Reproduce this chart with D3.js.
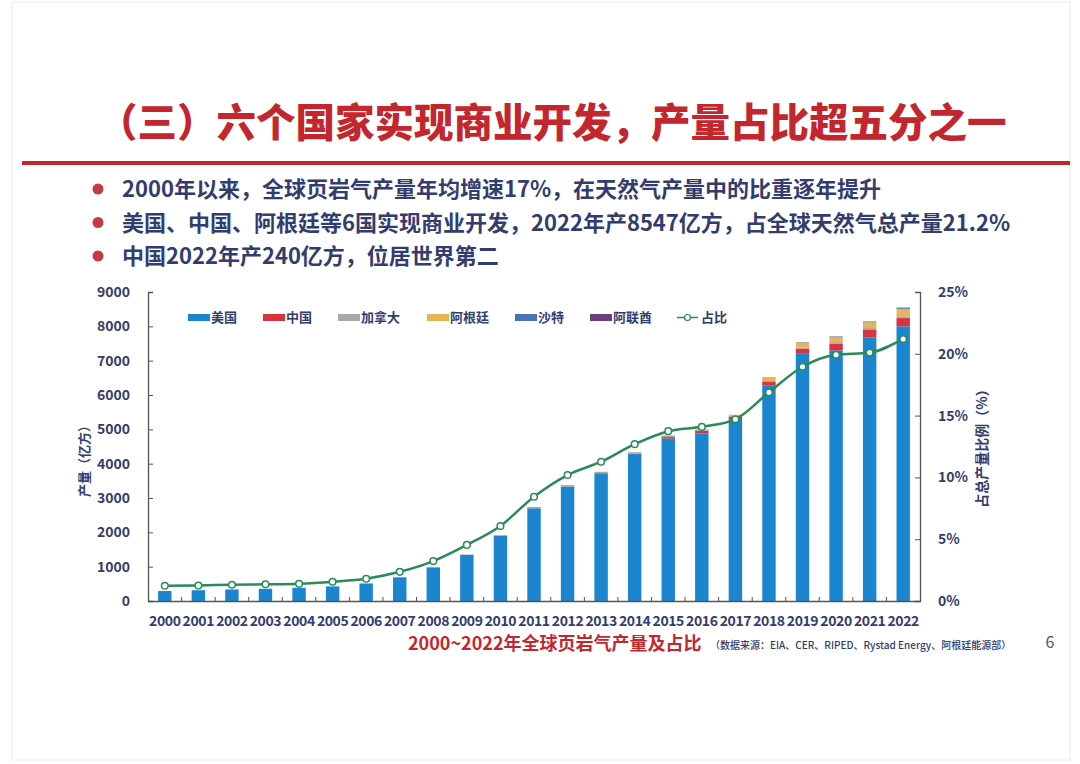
<!DOCTYPE html>
<html><head><meta charset="utf-8">
<script src="https://cdn.jsdelivr.net/npm/d3@7/dist/d3.min.js"></script>
<style>
html,body{margin:0;padding:0;background:#fff;}
svg{display:block;font-family:"Noto Sans CJK SC","Noto Sans",sans-serif;}
</style></head>
<body><svg id="c" width="1080" height="764"></svg>
<script>
const years = ["2000","2001","2002","2003","2004","2005","2006","2007","2008","2009","2010","2011","2012","2013","2014","2015","2016","2017","2018","2019","2020","2021","2022"];
const usa       = [290,315,335,355,385,425,510,690,980,1340,1900,2700,3330,3720,4280,4730,4880,5275,6270,7200,7300,7680,8000];
const china     = [0,0,0,0,0,0,0,0,0,0,0,0,3,2,13,45,79,90,108,154,200,230,240];
const canada    = [0,0,0,0,0,0,0,5,10,15,20,40,45,40,40,40,35,30,30,25,40,40,50];
const argentina = [0,0,0,0,0,0,0,0,0,0,0,0,0,2,5,10,15,30,100,145,140,170,220];
const saudi     = [0,0,0,0,0,0,0,0,0,0,0,0,0,0,0,0,0,0,10,12,20,20,30];
const uae       = [0,0,0,0,0,0,0,0,0,0,0,0,0,0,0,0,0,0,0,3,6,3,7];
const share     = [1.23,1.26,1.32,1.35,1.40,1.56,1.80,2.36,3.23,4.54,6.07,8.44,10.19,11.27,12.69,13.74,14.09,14.70,16.88,18.95,19.92,20.10,21.20];
const seriesNames = ["美国","中国","加拿大","阿根廷","沙特","阿联酋"];
const leftTicks = [0,1000,2000,3000,4000,5000,6000,7000,8000,9000];
const rightTicks = [0,5,10,15,20,25];

const colors = ["#1b86cf","#d8333f","#a8a8a8","#e8b454","#4a72b5","#6b3f7c"];
const navy = "#323c6e";
const green = "#2a8a58";

const svg = d3.select("#c");
// page frame
svg.append("rect").attr("x",12).attr("y",2).attr("width",1058).attr("height",758)
  .attr("fill","none").attr("stroke","#ececec").attr("stroke-width",1);

// title
svg.append("text").attr("x",98).attr("y",137).attr("text-anchor","start")
  .attr("font-size",39.5).attr("font-weight",900).attr("fill","#c4262e")
  .text("（三）六个国家实现商业开发，产量占比超五分之一");
svg.append("rect").attr("x",22).attr("y",161).attr("width",1048).attr("height",4).attr("fill","#c4262e");

// bullets
const bullets = ["2000年以来，全球页岩气产量年均增速17%，在天然气产量中的比重逐年提升",
  "美国、中国、阿根廷等6国实现商业开发，2022年产8547亿方，占全球天然气总产量21.2%",
  "中国2022年产240亿方，位居世界第二"];
bullets.forEach((t,i)=>{
  const y = 189 + i*33.5;
  svg.append("circle").attr("cx",98).attr("cy",y).attr("r",5.5).attr("fill","#c23b40");
  svg.append("text").attr("x",122).attr("y",y+8).attr("font-size",22).attr("font-weight",700)
    .attr("fill",navy).text(t);
});

// chart
const x0 = 148, x1 = 920, yTop = 292, yBot = 601;
const x = d3.scaleBand().domain(years).range([x0,x1]).paddingInner(0.6).paddingOuter(0.3);
const y = d3.scaleLinear().domain([0,9000]).range([yBot,yTop]);
const y2 = d3.scaleLinear().domain([0,25]).range([yBot,yTop]);

const table = years.map((yr,i)=>({year:yr,"美国":usa[i],"中国":china[i],"加拿大":canada[i],"阿根廷":argentina[i],"沙特":saudi[i],"阿联酋":uae[i]}));
const stacked = d3.stack().keys(seriesNames)(table);

const g = svg.append("g");
stacked.forEach((s,k)=>{
  g.append("g").attr("fill",colors[k]).selectAll("rect").data(s).join("rect")
    .attr("x",d=>x(d.data.year)).attr("width",x.bandwidth())
    .attr("y",d=>y(d[1])).attr("height",d=>Math.max(0,y(d[0])-y(d[1])));
});

// axes
const axisColor = "#555";
const la = svg.append("g").attr("transform",`translate(${x0},0)`)
  .call(d3.axisRight(y).tickValues(leftTicks).tickSize(5).tickFormat(""));
la.select(".domain").attr("stroke",axisColor).attr("stroke-width",1.3);
la.selectAll(".tick line").attr("stroke",axisColor);
leftTicks.forEach(v=>{
  svg.append("text").attr("x",130).attr("y",y(v)+5).attr("text-anchor","end")
    .attr("font-size",14).attr("font-weight",700).attr("fill",navy).text(v);
});
const ra = svg.append("g").attr("transform",`translate(${x1},0)`)
  .call(d3.axisLeft(y2).tickValues(rightTicks).tickSize(5).tickFormat(""));
ra.select(".domain").attr("stroke",axisColor).attr("stroke-width",1.3);
ra.selectAll(".tick line").attr("stroke",axisColor);
rightTicks.forEach(v=>{
  svg.append("text").attr("x",938).attr("y",y2(v)+5).attr("text-anchor","start")
    .attr("font-size",14).attr("font-weight",700).attr("fill",navy).text(v+"%");
});
// bottom axis
const ba = svg.append("g").attr("transform",`translate(0,${yBot})`)
  .call(d3.axisBottom(x).tickSize(0).tickFormat(""));
ba.select(".domain").attr("stroke",axisColor).attr("stroke-width",1.3);
years.slice(1).forEach(yr=>{
  const bx = x(yr) - x.step()*x.paddingInner()/2;
  svg.append("line").attr("x1",bx).attr("x2",bx).attr("y1",yBot).attr("y2",yBot-4).attr("stroke",axisColor);
});
years.forEach(yr=>{
  svg.append("text").attr("x",x(yr)+x.bandwidth()/2).attr("y",626).attr("text-anchor","middle")
    .attr("font-size",14).attr("font-weight",700).attr("letter-spacing",-0.4).attr("fill",navy).text(yr);
});

// axis titles
svg.append("text").attr("transform","translate(89,458) rotate(-90)").attr("text-anchor","middle")
  .attr("font-size",13).attr("font-weight",700).attr("fill",navy).text("产量（亿方）");
svg.append("text").attr("transform","translate(987,445) rotate(-90)").attr("text-anchor","middle")
  .attr("font-size",14).attr("font-weight",700).attr("fill",navy).text("占总产量比例（%）");

// line
const pts = years.map((yr,i)=>[x(yr)+x.bandwidth()/2, y2(share[i])]);
svg.append("path").attr("d",d3.line().curve(d3.curveMonotoneX)(pts))
  .attr("fill","none").attr("stroke",green).attr("stroke-width",2.5);
svg.append("g").selectAll("circle").data(pts).join("circle")
  .attr("cx",d=>d[0]).attr("cy",d=>d[1]).attr("r",3.3)
  .attr("fill","#fff").attr("stroke",green).attr("stroke-width",1.5);

// legend
const legX = [188,263,338,427,515,590];
seriesNames.forEach((n,i)=>{
  svg.append("rect").attr("x",legX[i]).attr("y",314).attr("width",22).attr("height",7).attr("fill",colors[i]);
  svg.append("text").attr("x",legX[i]+23).attr("y",322).attr("font-size",13).attr("font-weight",700)
    .attr("fill",navy).text(n);
});
svg.append("line").attr("x1",677).attr("x2",698).attr("y1",317.5).attr("y2",317.5).attr("stroke",green).attr("stroke-width",1.5);
svg.append("circle").attr("cx",687.5).attr("cy",317.5).attr("r",3).attr("fill","#fff").attr("stroke",green).attr("stroke-width",1.2);
svg.append("text").attr("x",701).attr("y",322).attr("font-size",13).attr("font-weight",700).attr("fill",navy).text("占比");

// caption
svg.append("text").attr("x",408).attr("y",650).attr("font-size",18).attr("font-weight",700)
  .attr("fill","#c4262e").text("2000~2022年全球页岩气产量及占比");
svg.append("text").attr("x",710).attr("y",649).attr("font-size",10).attr("font-weight",500)
  .attr("fill",navy).text("（数据来源：EIA、CER、RIPED、Rystad Energy、阿根廷能源部）");
svg.append("text").attr("x",1050).attr("y",648).attr("text-anchor","middle").attr("font-size",16)
  .attr("fill","#555").text("6");
</script></body></html>
